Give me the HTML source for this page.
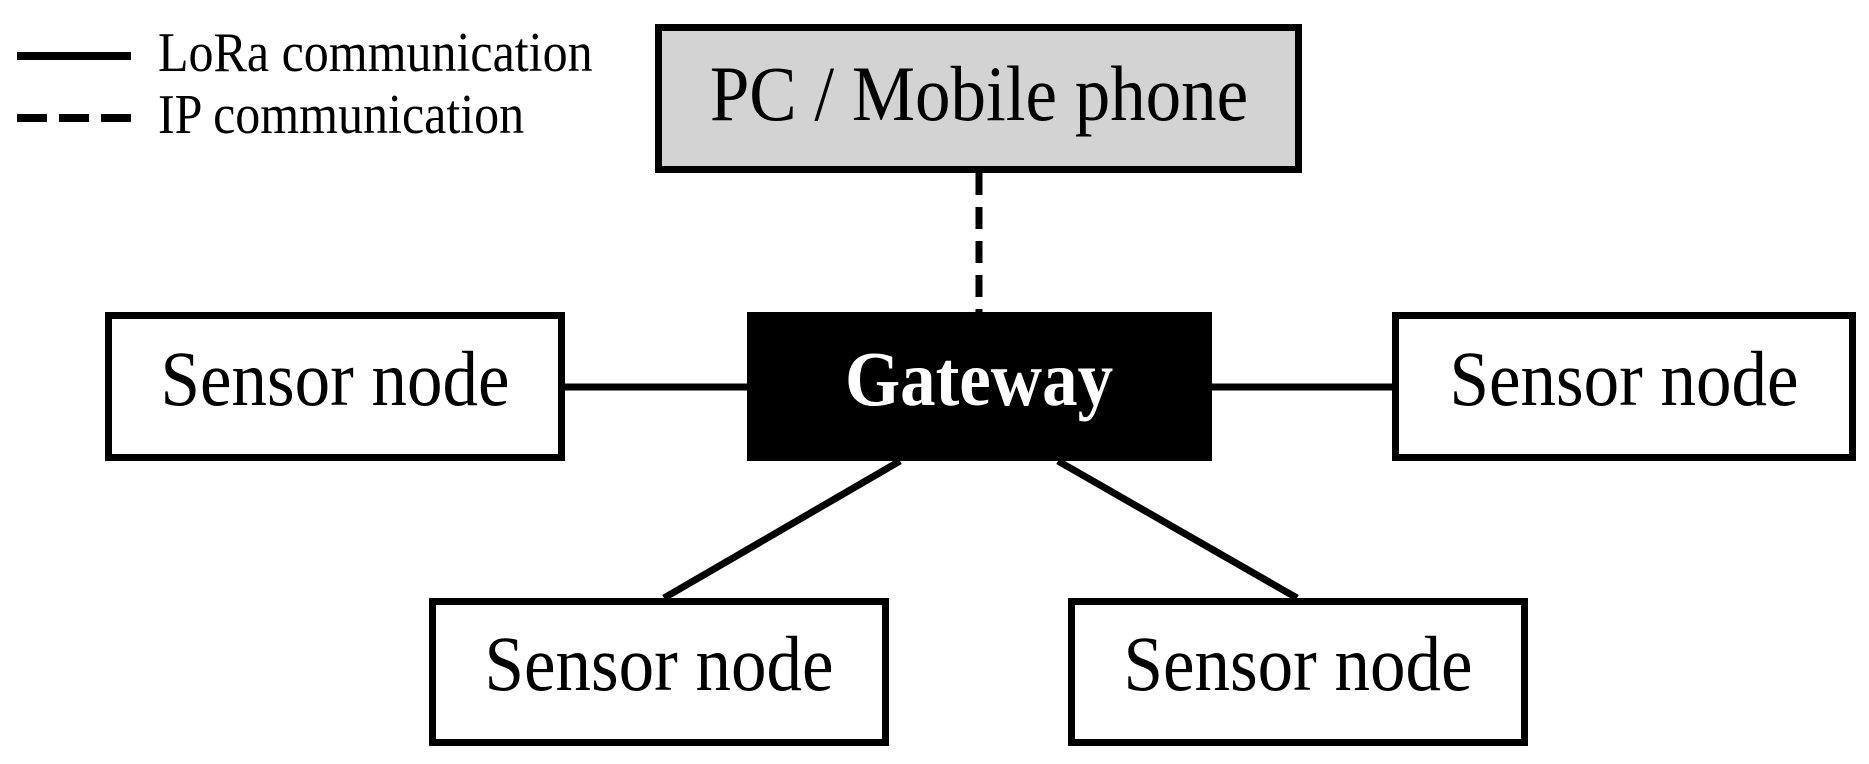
<!DOCTYPE html>
<html><head><meta charset="utf-8"><style>html,body{margin:0;padding:0;background:#fff}svg{display:block}</style></head>
<body>
<svg width="1869" height="764" viewBox="0 0 1869 764" xmlns="http://www.w3.org/2000/svg" font-family="'Liberation Serif', serif">
<rect width="1869" height="764" fill="#fff"/>
<!-- legend -->
<line x1="17" y1="56" x2="131" y2="56" stroke="#000" stroke-width="8"/>
<line x1="17" y1="118" x2="131" y2="118" stroke="#000" stroke-width="8" stroke-dasharray="30,12"/>
<text transform="translate(158,71) scale(1,1.12)" font-size="50">LoRa communication</text>
<text transform="translate(158,133) scale(1,1.12)" font-size="50">IP communication</text>
<!-- connectors -->
<line x1="979" y1="173" x2="979" y2="312" stroke="#000" stroke-width="7" stroke-dasharray="22,12"/>
<line x1="565" y1="387" x2="747" y2="387" stroke="#000" stroke-width="7"/>
<line x1="1212" y1="387" x2="1392" y2="387" stroke="#000" stroke-width="7"/>
<line x1="900" y1="461" x2="664" y2="598" stroke="#000" stroke-width="7"/>
<line x1="1058" y1="461" x2="1297" y2="598" stroke="#000" stroke-width="7"/>
<!-- boxes -->
<rect x="658.5" y="27.5" width="640" height="142" fill="#d3d3d3" stroke="#000" stroke-width="7"/>
<text transform="translate(979,120) scale(1,1.1)" font-size="71" text-anchor="middle">PC / Mobile phone</text>
<rect x="747" y="312" width="465" height="149" fill="#000"/>
<text transform="translate(979,405) scale(1,1.1)" font-size="71" font-weight="bold" fill="#fff" text-anchor="middle">Gateway</text>
<rect x="108.5" y="315.5" width="453" height="142" fill="#fff" stroke="#000" stroke-width="7"/>
<text transform="translate(335,405) scale(1,1.1)" font-size="71" text-anchor="middle">Sensor node</text>
<rect x="1395.5" y="315.5" width="457" height="142" fill="#fff" stroke="#000" stroke-width="7"/>
<text transform="translate(1624,405) scale(1,1.1)" font-size="71" text-anchor="middle">Sensor node</text>
<rect x="432.5" y="601.5" width="453" height="141" fill="#fff" stroke="#000" stroke-width="7"/>
<text transform="translate(659,690) scale(1,1.1)" font-size="71" text-anchor="middle">Sensor node</text>
<rect x="1071.5" y="601.5" width="453" height="141" fill="#fff" stroke="#000" stroke-width="7"/>
<text transform="translate(1298,690) scale(1,1.1)" font-size="71" text-anchor="middle">Sensor node</text>
</svg>
</body></html>
